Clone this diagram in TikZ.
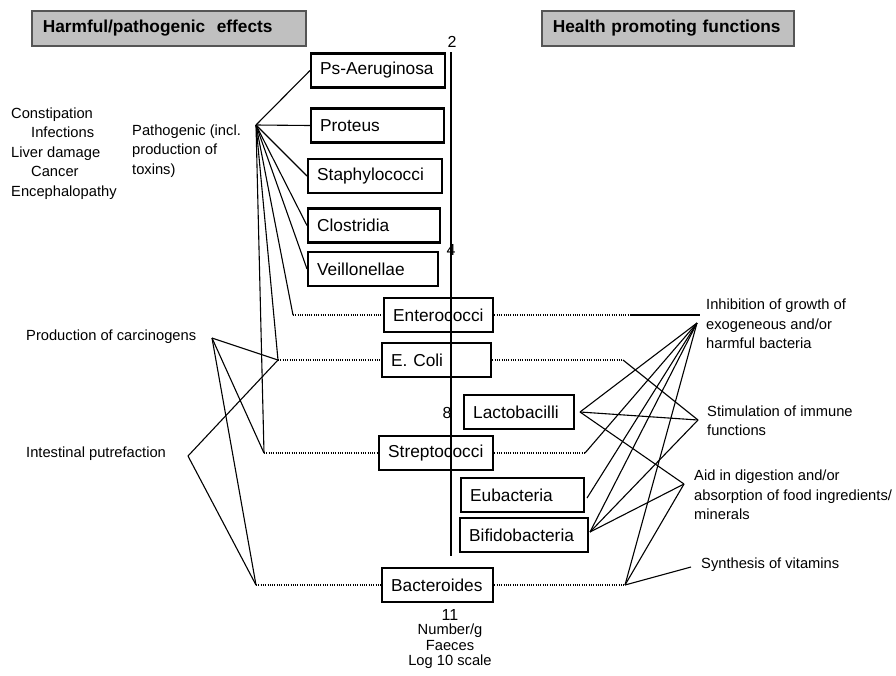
\documentclass[tikz,border=0pt]{standalone}
\usepackage{fontspec}
\setmainfont{Liberation Sans}
\usepackage{tikz}
\usetikzlibrary{positioning}
\definecolor{headfill}{RGB}{192,192,192}
\definecolor{headline}{RGB}{85,85,85}

\begin{document}
\begin{tikzpicture}[x=1pt,y=-1pt,
genus/.style={rectangle,draw,line width=2.3pt,inner xsep=9pt,inner ysep=0pt,minimum height=34pt,anchor=west,align=left,font=\fontsize{17.3}{20}\selectfont},
header/.style={rectangle,draw=headline,fill=headfill,line width=1.6pt,inner xsep=11pt,inner ysep=0pt,minimum height=35pt,anchor=west,align=left,font=\fontsize{17.3}{20}\selectfont\bfseries},
effect/.style={anchor=west,inner sep=0pt,align=left,font=\fontsize{14.7}{19.4}\selectfont},
tick/.style={inner sep=0pt,font=\fontsize{16}{16}\selectfont},
paths/.style={line width=1.1pt},
bpaths/.style={line width=1.8pt},
dpaths/.style={line width=1.5pt,dash pattern=on 1pt off 1.3pt},
]
\useasboundingbox (0,0) rectangle (896,675);

\node [header,text width=252pt] (Harm) at (31,28.5) {Harmful/pathogenic\ \ effects};
\node [header,text width=230pt] (Health) at (541,28.5) {Health promoting functions};

\node [genus,text width=116pt] (PsA) at (310,70.5) {Ps-Aeruginosa};
\node [genus,text width=115pt] (Pro) at (310,125.5) {Proteus};
\node [genus,text width=116pt] (Sta) at (307,176) {Staphylococci};
\node [genus,text width=114pt] (Clo) at (307,225.5) {Clostridia};
\node [genus,text width=112pt] (Vei) at (307,269) {Veillonellae};
\node [genus,text width=91pt] (Ent) at (383,315) {Enterococci};
\node [genus,text width=91pt] (Eco) at (381,360) {E. Coli};
\node [genus,text width=92pt] (Lac) at (463,412) {Lactobacilli};
\node [genus,text width=96pt] (Str) at (378,453) {Streptococci};
\node [genus,text width=105pt] (Eub) at (460,495) {Eubacteria};
\node [genus,text width=110pt] (Bif) at (459,535) {Bifidobacteria};
\node [genus,text width=93pt] (Bac) at (381,585) {Bacteroides};

\coordinate (axTop) at (451,52);
\coordinate (axBot) at (451,556);
\draw [line width=1.2pt] (axTop) -- (axBot);
\node [tick] (T2) at (452,42) {2};
\node [tick] (T4) at (451,250) {4};
\node [tick] (T8) at (447,413) {8};
\node [tick] (T11) at (450,615) {11};
\node [effect,anchor=north,align=center,font=\fontsize{14.7}{15.5}\selectfont] (Unit) [below=3pt of T11] {Number/g\\Faeces\\Log 10 scale};

\node [effect] (Sympt) at (11,153.5) {Constipation\\\hspace*{20pt}Infections\\Liver damage\\\hspace*{20pt}Cancer\\Encephalopathy};
\node [effect] (Patho) at (132,151) {Pathogenic (incl.\\production of\\toxins)};
\node [effect] (Carc) at (26,337) {Production of carcinogens};
\node [effect] (Putr) at (26,454) {Intestinal putrefaction};

\node [effect] (Inh) at (706,324) {Inhibition of growth of\\exogeneous and/or\\harmful bacteria};
\node [effect] (Stim) at (707,420.5) {Stimulation of immune\\functions};
\node [effect] (Aid) at (694,495) {Aid in digestion and/or\\absorption of food ingredients/\\minerals};
\node [effect] (Vit) at (701,565) {Synthesis of vitamins};

\coordinate (hPath) at (256,125);
\coordinate (hEnt) at (293,315);
\coordinate (hEco) at (278,360);
\coordinate (hStr) at (264,453);
\coordinate (hBac) at (256,585);
\coordinate (hCarc) at (212,338);
\coordinate (hPutr) at (188,456);

\foreach \va in {PsA, Pro, Sta, Clo, Vei}
{
\draw [paths] (hPath) to (\va.west);
}
\foreach \vb in {hEnt, hEco, hStr}
{
\draw [paths] (hPath) to (\vb);
}
\foreach \vc in {hEco, hStr, hBac}
{
\draw [paths] (hCarc) to (\vc);
}
\foreach \vd in {hEco, hBac}
{
\draw [paths] (hPutr) to (\vd);
}

\draw [dpaths] (hEnt) to (Ent.west);
\draw [dpaths] (hEco) to (Eco.west);
\draw [dpaths] (hStr) to (Str.west);
\draw [dpaths] (hBac) to (Bac.west);

\coordinate (entR) at (630,315);
\coordinate (inhEnd) at (700,315);
\coordinate (ecoR) at (623,360);
\coordinate (lacR) at (580,412);
\coordinate (strR) at (585,453);
\coordinate (eubR) at (587,498);
\coordinate (bifR) at (590,532);
\coordinate (bacR) at (625,585);
\coordinate (hInh) at (697,323);
\coordinate (hStim) at (698,420);
\coordinate (hAid) at (684,484);
\coordinate (hVit) at (691,567);

\draw [dpaths] (Ent.east) to (entR);
\draw [dpaths] (Eco.east) to (ecoR);
\draw [dpaths] (Str.east) to (strR);
\draw [dpaths] (Bac.east) to (bacR);
\draw [bpaths] (entR) to (inhEnd);
\draw [paths] (ecoR) to (hStim);

\foreach \ve in {lacR, strR, eubR, bifR, bacR}
{
\draw [paths] (\ve) to (hInh);
}
\foreach \vf in {lacR, bifR}
{
\draw [paths] (\vf) to (hStim);
}
\foreach \vg in {lacR, bifR, bacR}
{
\draw [paths] (\vg) to (hAid);
}
\draw [paths] (bacR) to (hVit);

\end{tikzpicture}
\end{document}
